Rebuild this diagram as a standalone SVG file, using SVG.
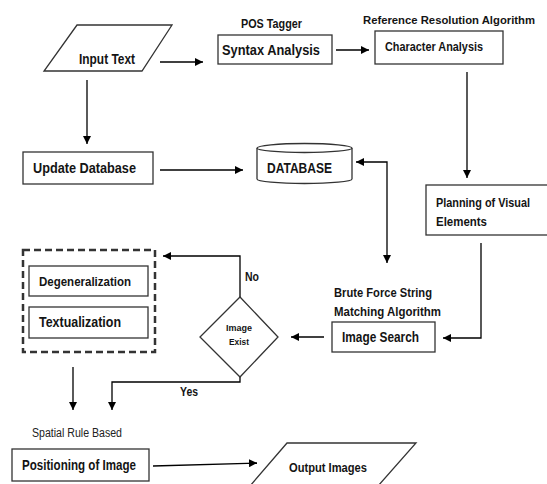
<svg xmlns="http://www.w3.org/2000/svg" width="547" height="484" viewBox="0 0 547 484">
<defs>
<marker id="ah" viewBox="0 0 10 10" refX="10" refY="5" markerWidth="8" markerHeight="8" markerUnits="userSpaceOnUse" orient="auto-start-reverse">
<path d="M0,0 L10,5 L0,10 z" fill="#000"/>
</marker>
<style>
.box{fill:#fff;stroke:#333;stroke-width:1.3}
.t{font-family:"Liberation Sans",Arial,sans-serif;font-weight:bold;font-size:15px;fill:#141414}
.s{font-family:"Liberation Sans",Arial,sans-serif;font-weight:bold;font-size:13px;fill:#141414}
.n{font-family:"Liberation Sans",Arial,sans-serif;font-size:12.5px;fill:#222}
.c{fill:none;stroke:#000;stroke-width:1.3}
</style>
</defs>
<rect width="547" height="484" fill="#fff"/>
<g id="connectors">
<line class="c" x1="160" y1="62" x2="203" y2="62" marker-end="url(#ah)"/>
<line class="c" x1="336" y1="50" x2="369" y2="50" marker-end="url(#ah)"/>
<line class="c" x1="467" y1="72" x2="467" y2="178" marker-end="url(#ah)"/>
<line class="c" x1="87" y1="80" x2="87" y2="144" marker-end="url(#ah)"/>
<line class="c" x1="160" y1="170" x2="243" y2="170" marker-end="url(#ah)"/>
<polyline class="c" points="356,162 387,162 387,263" marker-start="url(#ah)" marker-end="url(#ah)"/>
<polyline class="c" points="481,243 481,338 443,338" marker-end="url(#ah)"/>
<line class="c" x1="324" y1="337" x2="291" y2="337" marker-end="url(#ah)"/>
<polyline class="c" points="240,297 240,256 163,256" marker-end="url(#ah)"/>
<polyline class="c" points="240,377 240,382 112,382 112,410" marker-end="url(#ah)"/>
<line class="c" x1="73" y1="367" x2="73" y2="410" marker-end="url(#ah)"/>
<line class="c" x1="153" y1="466" x2="257" y2="463" marker-end="url(#ah)"/>
</g>
<g id="input-text">
<polygon class="box" points="77,25 172,25 142,71 44,71"/>
<text class="t" x="79" y="64" textLength="56" lengthAdjust="spacingAndGlyphs">Input Text</text>
</g>
<g id="syntax-analysis">
<text class="s" x="241" y="28" textLength="61" lengthAdjust="spacingAndGlyphs">POS Tagger</text>
<rect class="box" x="218" y="35" width="114" height="29"/>
<text class="t" x="222" y="55" textLength="98" lengthAdjust="spacingAndGlyphs">Syntax Analysis</text>
</g>
<g id="character-analysis">
<text class="s" x="363" y="24" style="font-size:11.5px" textLength="172" lengthAdjust="spacingAndGlyphs">Reference Resolution Algorithm</text>
<rect class="box" x="375" y="31" width="128" height="33"/>
<text class="s" x="385" y="51" textLength="98" lengthAdjust="spacingAndGlyphs">Character Analysis</text>
</g>
<g id="planning">
<rect class="box" x="426" y="185" width="130" height="50"/>
<text class="s" x="436" y="207" textLength="94" lengthAdjust="spacingAndGlyphs">Planning of Visual</text>
<text class="s" x="436" y="226" textLength="51" lengthAdjust="spacingAndGlyphs">Elements</text>
</g>
<g id="update-database">
<rect class="box" x="23" y="152" width="130" height="32"/>
<text class="t" x="33" y="173" textLength="103" lengthAdjust="spacingAndGlyphs">Update Database</text>
</g>
<g id="database">
<path class="box" d="M257,148 L257,179 A47.5,4.5 0 0 0 352,179 L352,148"/>
<ellipse class="box" cx="304.5" cy="148" rx="47.5" ry="4.5"/>
<text class="t" x="267" y="173" textLength="65" lengthAdjust="spacingAndGlyphs">DATABASE</text>
</g>
<g id="image-search">
<text class="s" x="334" y="297" textLength="98" lengthAdjust="spacingAndGlyphs">Brute Force String</text>
<text class="s" x="334" y="316" textLength="107" lengthAdjust="spacingAndGlyphs">Matching Algorithm</text>
<rect class="box" x="332" y="322" width="103" height="30"/>
<text class="t" x="342" y="342" textLength="77" lengthAdjust="spacingAndGlyphs">Image Search</text>
</g>
<g id="image-exist">
<polygon class="box" points="240,297 278,337 240,377 200,337"/>
<text class="s" x="239" y="331" text-anchor="middle" style="font-size:9px" textLength="26" lengthAdjust="spacingAndGlyphs">Image</text>
<text class="s" x="239" y="345" text-anchor="middle" style="font-size:9px" textLength="20" lengthAdjust="spacingAndGlyphs">Exist</text>
<text class="s" x="245" y="281" textLength="14" lengthAdjust="spacingAndGlyphs">No</text>
<text class="s" x="180" y="396" textLength="18" lengthAdjust="spacingAndGlyphs">Yes</text>
</g>
<g id="refinement-group">
<rect x="23" y="250" width="132" height="102" fill="none" stroke="#333" stroke-width="2.5" stroke-dasharray="7,4"/>
</g>
<g id="degeneralization">
<rect class="box" x="29" y="266" width="119" height="30"/>
<text class="s" x="39" y="286" textLength="92" lengthAdjust="spacingAndGlyphs">Degeneralization</text>
</g>
<g id="textualization">
<rect class="box" x="29" y="307" width="119" height="31"/>
<text class="t" x="39" y="327" textLength="82" lengthAdjust="spacingAndGlyphs">Textualization</text>
</g>
<g id="positioning">
<text class="n" x="32" y="437" textLength="90" lengthAdjust="spacingAndGlyphs">Spatial Rule Based</text>
<rect class="box" x="12" y="449" width="137" height="32"/>
<text class="t" x="22" y="470" textLength="114" lengthAdjust="spacingAndGlyphs">Positioning of Image</text>
</g>
<g id="output-images">
<polygon class="box" points="287,443 416,443 378,486 250,486"/>
<text class="s" x="289" y="472" textLength="78" lengthAdjust="spacingAndGlyphs">Output Images</text>
</g>
</svg>
